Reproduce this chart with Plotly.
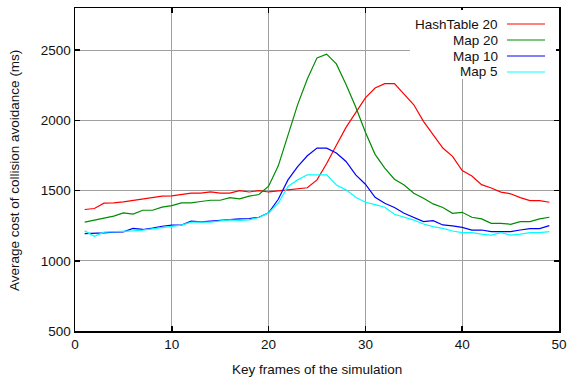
import plotly.graph_objects as go

frames = list(range(1, 50))

hashtable_20 = [1365, 1372, 1410, 1412, 1420, 1430, 1440, 1450, 1460, 1462,
                1472, 1482, 1482, 1490, 1482, 1482, 1500, 1490, 1500, 1490,
                1498, 1505, 1515, 1520, 1576, 1693, 1823, 1950, 2055, 2160,
                2230, 2261, 2261, 2182, 2111, 1993, 1898, 1803, 1744, 1642,
                1604, 1542, 1518, 1489, 1477, 1450, 1429, 1429, 1417]

map_20 = [1275, 1289, 1301, 1318, 1341, 1332, 1360, 1360, 1382, 1393,
          1412, 1412, 1422, 1431, 1431, 1450, 1441, 1460, 1472, 1531,
          1676, 1886, 2112, 2295, 2445, 2471, 2402, 2255, 2095, 1915,
          1758, 1660, 1581, 1540, 1481, 1445, 1405, 1379, 1338, 1345,
          1310, 1298, 1267, 1267, 1260, 1279, 1279, 1298, 1310]

map_10 = [1194, 1194, 1199, 1204, 1206, 1230, 1223, 1232, 1246, 1254,
          1254, 1282, 1277, 1282, 1289, 1294, 1299, 1301, 1310, 1341,
          1438, 1576, 1671, 1748, 1802, 1802, 1767, 1707, 1612, 1545,
          1452, 1410, 1379, 1338, 1307, 1279, 1286, 1255, 1248, 1238,
          1219, 1219, 1207, 1207, 1207, 1219, 1229, 1229, 1250]

map_5 = [1213, 1175, 1204, 1206, 1209, 1213, 1218, 1227, 1237, 1246,
         1254, 1275, 1275, 1275, 1284, 1292, 1287, 1292, 1308, 1341,
         1410, 1529, 1576, 1612, 1612, 1612, 1540, 1505, 1452, 1417,
         1400, 1381, 1331, 1310, 1290, 1262, 1243, 1231, 1212, 1200,
         1200, 1190, 1183, 1200, 1183, 1190, 1200, 1200, 1207]

series_names = ["HashTable 20", "Map 20", "Map 10", "Map 5"]
series_values = [hashtable_20, map_20, map_10, map_5]
colors = ["#ff0000", "#008c00", "#0000ff", "#00ffff"]

x_ticks = [0, 10, 20, 30, 40, 50]
y_ticks = [500, 1000, 1500, 2000, 2500]

FONT = "Liberation Sans, Arial, sans-serif"
FS = 13.5
TXT = "#111111"

# plot area in pixels
L, R, T, B = 75, 559, 8, 331
W, H = R - L, B - T

fig = go.Figure()
for name, vals, col in zip(series_names, series_values, colors):
    fig.add_trace(go.Scatter(x=frames, y=vals, mode="lines", name=name,
                             line=dict(color=col, width=1.2), showlegend=False,
                             hoverinfo="skip"))

axis_common = dict(
    showline=True, linecolor="black", linewidth=1.5, mirror="allticks",
    ticks="inside", ticklen=5, tickwidth=1.5, tickcolor="black",
    showgrid=True, gridcolor="#a0a0a0", gridwidth=1, zeroline=False,
    tickfont=dict(family=FONT, size=FS, color=TXT), automargin=False,
)

fig.update_xaxes(range=[0, 50], tickvals=x_ticks, **axis_common)
fig.update_yaxes(range=[500, 2800], tickvals=y_ticks, **axis_common)

def px(xp):
    return (xp - L) / W

def py(yp):
    return (B - yp) / H

# gnuplot-style legend: text right-aligned, line sample on the right
shapes = [dict(type="rect", xref="paper", yref="paper",
               x0=px(410), x1=px(556), y0=py(79), y1=py(10),
               fillcolor="white", line=dict(width=0), layer="above")]
annotations = []
rows_py = [24, 40, 56, 72]
for name, col, yy in zip(series_names, colors, rows_py):
    shapes.append(dict(type="line", xref="paper", yref="paper",
                       x0=px(507), x1=px(545), y0=py(yy), y1=py(yy),
                       line=dict(color=col, width=1.2), layer="above"))
    annotations.append(dict(xref="paper", yref="paper", x=px(500), y=py(yy),
                            xanchor="right", yanchor="middle", text=name,
                            showarrow=False,
                            font=dict(family=FONT, size=FS, color=TXT)))

# axis titles
annotations.append(dict(xref="paper", yref="paper", x=px(317), y=py(369),
                        xanchor="center", yanchor="middle",
                        text="Key frames of the simulation", showarrow=False,
                        font=dict(family=FONT, size=FS, color=TXT)))
annotations.append(dict(xref="paper", yref="paper", x=px(14), y=py(171),
                        xanchor="center", yanchor="middle", textangle=-90,
                        text="Average cost of collision avoidance (ms)",
                        showarrow=False,
                        font=dict(family=FONT, size=FS, color=TXT)))

fig.update_layout(
    width=567, height=379,
    margin=dict(l=L, r=567 - R, t=T, b=379 - B, autoexpand=False),
    plot_bgcolor="white", paper_bgcolor="white",
    shapes=shapes, annotations=annotations,
    showlegend=False, hovermode=False,
)

fig.write_html("out.html", config={"displayModeBar": False, "staticPlot": True},
               post_script="document.body.style.margin='0';document.body.style.overflow='hidden';")
